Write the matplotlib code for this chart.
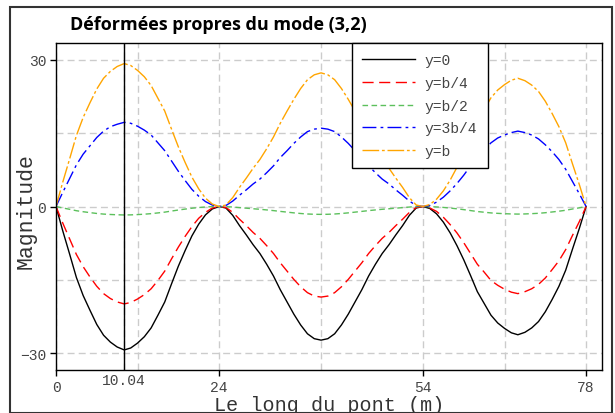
import matplotlib
matplotlib.use("Agg")
import matplotlib.pyplot as plt
from matplotlib.patches import Rectangle

# positions along the bridge (m)
x = [0, 1, 2, 3, 4, 5, 6, 7, 8, 9, 10.04, 11, 12, 13, 14, 15, 16, 17, 18, 19, 20, 21, 22, 23, 24,
     25, 26, 27, 28, 29, 30, 31, 32, 33, 34, 35, 36, 37, 38, 39,
     40, 41, 42, 43, 44, 45, 46, 47, 48, 49, 50, 51, 52, 53, 54,
     55, 56, 57, 58, 59, 60, 61, 62, 63, 64, 65, 66, 67, 67.96, 69, 70, 71, 72, 73, 74, 75, 76, 77, 78]

y_0 = [0, -5.0, -9.7, -14.5, -18.2, -21.2, -24.1, -26.3, -27.7, -28.7, -29.3, -28.9, -27.9, -26.6,
       -24.8, -22.2, -19.5, -15.8, -12.2, -9.0, -6.0, -3.6, -1.7, -0.5, 0,
       -0.3, -1.8, -3.9, -5.8, -7.8, -9.6, -11.8, -14.2, -17.0, -19.5, -22.0, -24.2, -26.0, -27.0, -27.3,
       -27.0, -26.0, -24.2, -22.0, -19.5, -17.0, -14.2, -11.8, -9.6, -7.8, -5.8, -3.9, -1.8, -0.3, 0,
       -0.4, -1.5, -3.2, -5.4, -8.0, -10.9, -14.1, -17.4, -19.8, -22.2, -23.8, -24.9, -25.8, -26.2,
       -25.7, -24.8, -23.5, -21.5, -19.0, -16.3, -13.0, -8.7, -4.5, 0]

y_b4 = [0, -3.4, -6.6, -9.8, -12.3, -14.4, -16.3, -17.8, -18.8, -19.5, -19.9, -19.6, -18.9, -18.0,
        -16.8, -15.1, -13.2, -10.7, -8.3, -6.1, -4.1, -2.4, -1.2, -0.3, 0,
        -0.2, -1.2, -2.6, -3.9, -5.3, -6.5, -8.0, -9.6, -11.5, -13.2, -14.9, -16.4, -17.6, -18.3, -18.5,
        -18.3, -17.6, -16.4, -14.9, -13.2, -11.5, -9.6, -8.0, -6.5, -5.3, -3.9, -2.6, -1.2, -0.2, 0,
        -0.3, -1.0, -2.2, -3.7, -5.4, -7.4, -9.6, -11.8, -13.4, -15.1, -16.1, -16.9, -17.5, -17.8,
        -17.4, -16.8, -15.9, -14.6, -12.9, -11.1, -8.8, -5.9, -3.1, 0]

y_b2 = [0, -0.30, -0.57, -0.86, -1.07, -1.25, -1.42, -1.55, -1.63, -1.69, -1.73, -1.71, -1.65, -1.57,
        -1.46, -1.31, -1.15, -0.93, -0.72, -0.53, -0.35, -0.21, -0.10, -0.03, 0,
        -0.02, -0.11, -0.23, -0.34, -0.46, -0.57, -0.70, -0.84, -1.00, -1.15, -1.30, -1.43, -1.53, -1.59, -1.61,
        -1.59, -1.53, -1.43, -1.30, -1.15, -1.00, -0.84, -0.70, -0.57, -0.46, -0.34, -0.23, -0.11, -0.02, 0,
        -0.02, -0.09, -0.19, -0.32, -0.47, -0.64, -0.83, -1.03, -1.17, -1.31, -1.40, -1.47, -1.52, -1.55,
        -1.52, -1.46, -1.39, -1.27, -1.12, -0.96, -0.77, -0.51, -0.27, 0]

y_3b4 = [0, 2.9, 5.7, 8.5, 10.7, 12.4, 14.1, 15.4, 16.3, 16.8, 17.2, 17.0, 16.4, 15.6,
         14.6, 13.0, 11.4, 9.3, 7.2, 5.3, 3.5, 2.1, 1.0, 0.3, 0,
         0.2, 1.1, 2.3, 3.4, 4.6, 5.6, 6.9, 8.3, 10.0, 11.4, 12.9, 14.2, 15.3, 15.8, 16.0,
         15.8, 15.3, 14.2, 12.9, 11.4, 10.0, 8.3, 6.9, 5.6, 4.6, 3.4, 2.3, 1.1, 0.2, 0,
         0.2, 0.9, 1.9, 3.2, 4.7, 6.4, 8.3, 10.2, 11.6, 13.0, 14.0, 14.6, 15.1, 15.4,
         15.1, 14.6, 13.8, 12.6, 11.2, 9.6, 7.6, 5.1, 2.6, 0]

y_b = [0, 5.0, 9.7, 14.5, 18.2, 21.2, 24.0, 26.2, 27.6, 28.6, 29.2, 28.8, 27.8, 26.5,
       24.7, 22.1, 19.5, 15.8, 12.2, 9.0, 6.0, 3.6, 1.7, 0.5, 0,
       0.3, 1.8, 3.9, 5.8, 7.8, 9.6, 11.8, 14.2, 17.0, 19.5, 21.9, 24.1, 25.9, 26.9, 27.3,
       26.9, 25.9, 24.1, 21.9, 19.5, 17.0, 14.2, 11.8, 9.6, 7.8, 5.8, 3.9, 1.8, 0.3, 0,
       0.4, 1.5, 3.2, 5.4, 8.0, 10.9, 14.1, 17.4, 19.8, 22.2, 23.8, 24.9, 25.8, 26.2,
       25.7, 24.8, 23.5, 21.5, 19.0, 16.3, 13.0, 8.7, 4.5, 0]

labels = ['y=0', 'y=b/4', 'y=b/2', 'y=3b/4', 'y=b']
supports = [0, 24, 54, 78]
mid_spans = [12, 39, 66]
x_max = 10.04

mono = 'Liberation Mono'
grey = '#444444'

fig = plt.figure(figsize=(6.15, 4.14), dpi=100)
ax = fig.add_axes([56 / 615, 43 / 414, 546 / 615, 327 / 414])

ax.plot(x, y_0, color='black', lw=1.0, label=labels[0])
ax.plot(x, y_b4, color='red', lw=1.0, dashes=(8, 4), label=labels[1])
ax.plot(x, y_b2, color='#5cc05c', lw=1.0, dashes=(4, 2.5), label=labels[2])
ax.plot(x, y_3b4, color='blue', lw=1.0, dashes=(10, 3, 2, 3), label=labels[3])
ax.plot(x, y_b, color='orange', lw=1.0, dashes=(12, 2, 2, 2), label=labels[4])
ax.axvline(x_max, color='black', lw=1.0)

ax.set_xlim(0, 80.34)
ax.set_ylim(-33.4, 33.4)

ax.set_xticks(supports)
ax.set_xticks([x_max] + mid_spans, minor=True)
ax.set_xticklabels([str(s) for s in supports])
ax.set_xticklabels(['10.04', '', '', ''], minor=True)
ax.set_yticks([-30, 0, 30])
ax.set_yticks([-15, 15], minor=True)
ax.set_yticklabels(['\u221230', '0', '30'])

ax.tick_params(which='major', direction='out', length=4, width=1, color='black',
               labelcolor=grey, labelsize=10.5, pad=3)
ax.tick_params(which='minor', length=0, labelcolor=grey, labelsize=10.5, pad=2)
for lab in ax.get_xticklabels(which='both') + ax.get_yticklabels():
    lab.set_family(mono)

ax.grid(True, which='both', color='#cccccc', lw=1.0, dashes=(5, 3))
ax.set_axisbelow(True)
for sp in ax.spines.values():
    sp.set_linewidth(1.0)
    sp.set_color('black')

ax.set_xlabel('Le long du pont (m)', family=mono, fontsize=14.5, color='#333333', va='center')
ax.xaxis.set_label_coords(0.5, -0.107)
ax.set_ylabel('Magnitude', family=mono, fontsize=15.5, color='#333333', va='center', ha='center')
ax.yaxis.set_label_coords(-0.054, 0.49)

leg = ax.legend(loc='upper left', bbox_to_anchor=(0.542, 1.0), borderaxespad=0,
                prop={'family': mono, 'size': 10.5}, handlelength=3.6, handletextpad=0.7,
                labelspacing=0.6, fancybox=False, framealpha=1, edgecolor='black', borderpad=0.7)
leg.get_frame().set_linewidth(1.0)
for t in leg.get_texts():
    t.set_color(grey)

fig.text(70 / 615, 1 - 25 / 414, 'Déformées propres du mode (3,2)', fontsize=13,
         fontweight='bold', family='Open Sans', ha='left', va='center')

fig.patches.append(Rectangle((10 / 615, 0.5 / 414), 602 / 615, 405.5 / 414, transform=fig.transFigure,
                             fill=False, edgecolor='#333333', lw=1.5))

fig.savefig('out.png', dpi=100)
